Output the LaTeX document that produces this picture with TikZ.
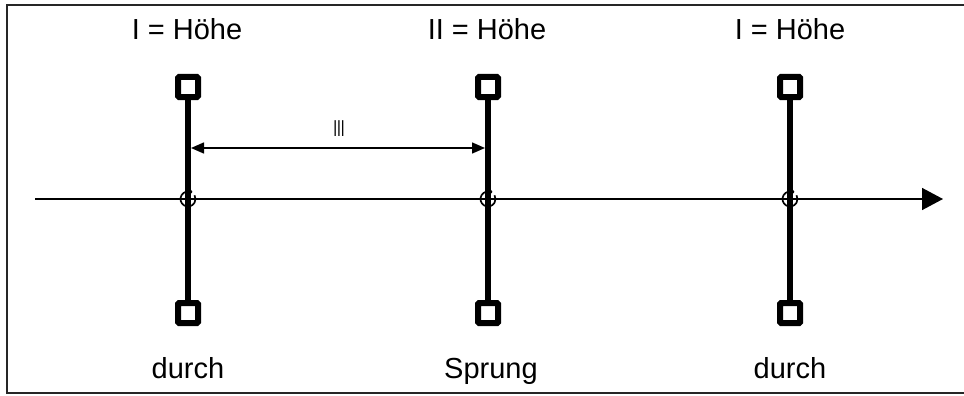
\documentclass[tikz,border=0pt]{standalone}
\usepackage{fontspec}
\setmainfont{Liberation Sans}
\usetikzlibrary{arrows.meta}
\tikzset{
  sq/.style={draw, line width=6pt, minimum size=20pt, inner sep=0pt, rectangle, rounded corners=1pt},
  bar/.style={line width=6pt},
  lbl/.style={font=\fontsize{29}{32}\selectfont, inner sep=0pt, anchor=base},
  axis/.style={line width=1.5pt, -{Triangle[length=21pt,width=22pt]}},
  dim/.style={line width=1.5pt, {Triangle[length=13pt,width=11pt]}-{Triangle[length=13pt,width=11pt]}},
  rot/.style={line width=1.7pt}
}
\begin{document}
\begin{tikzpicture}[x=1pt,y=-1pt]
\useasboundingbox (0,0) rectangle (964,396);
\draw[line width=2pt, black!85] (7,5) rectangle (975,393);
% axis
\coordinate (a0) at (35,199);
\coordinate (a1) at (943,199);
\draw[axis] (a0) -- (a1);
% bars
\foreach \i/\x in {1/188,2/488,3/790}{
  \node[sq] (t\i) at (\x,87) {};
  \node[sq] (b\i) at (\x,313) {};
  \draw[bar] (t\i) -- (b\i);
  \draw[rot] (\x,199) ++(60:7.5pt) arc[start angle=60,end angle=390,radius=7.5pt];
  \draw[rot] (\x,199) ++(60:7.5pt) -- ++(-2,-3);
}
% labels
\node[lbl] (h1) at (187,40) {I = Höhe};
\node[lbl] (h2) at (487,40) {II = Höhe};
\node[lbl] (h3) at (790,40) {I = Höhe};
\node[lbl] (u1) at (188,378) {durch};
\node[lbl] (u2) at (491,378) {Sprung};
\node[lbl] (u3) at (790,378) {durch};
% dimension
\coordinate (d1) at (191,148);
\coordinate (d2) at (485,148);
\draw[dim] (d1) -- (d2);
\node[font=\fontsize{23}{25}\selectfont, inner sep=0pt, anchor=base] (iii) at (339,136) {\scalebox{0.6}[1]{III}};
\end{tikzpicture}
\end{document}
